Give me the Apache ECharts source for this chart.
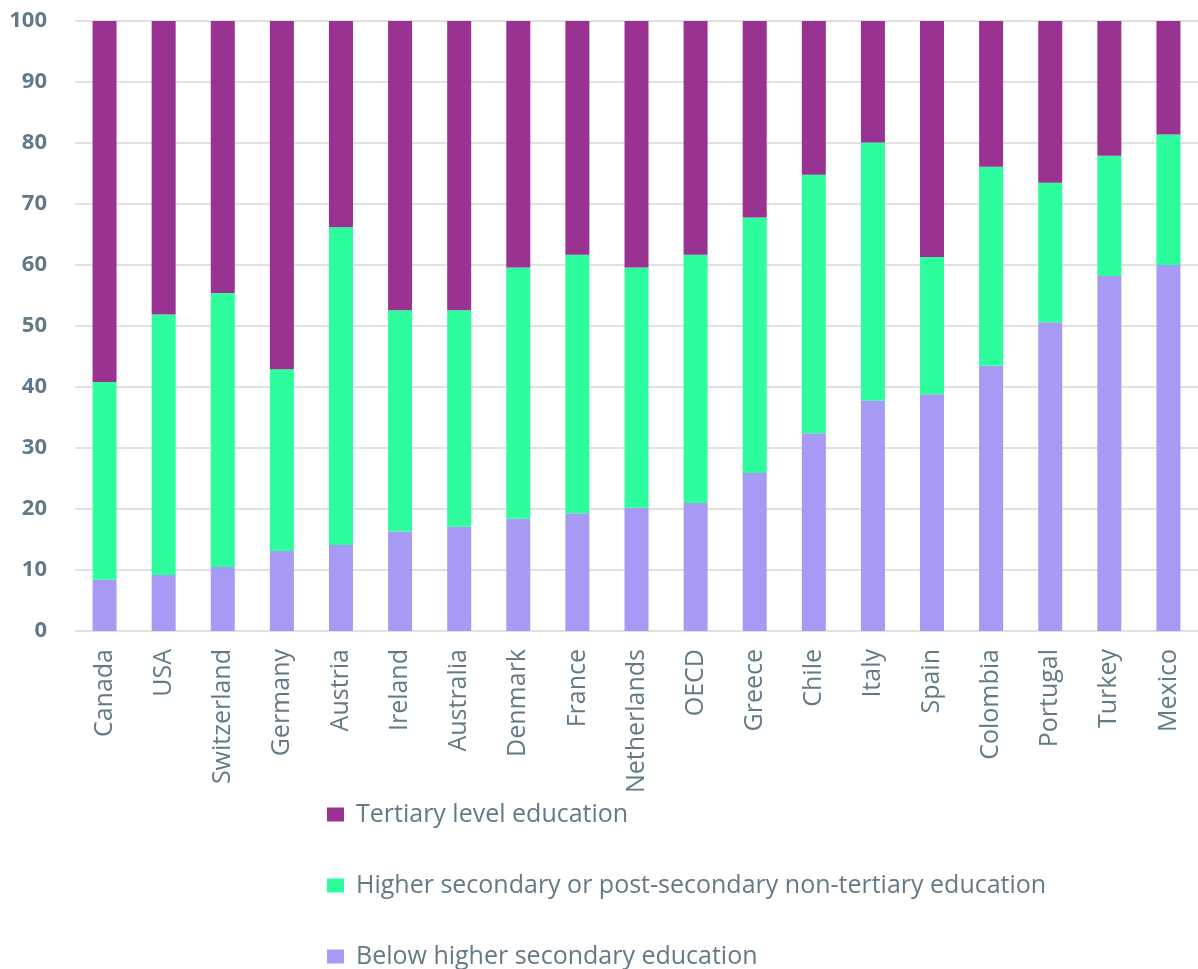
<!DOCTYPE html>
<html><head><meta charset="utf-8">
<script src="https://cdn.jsdelivr.net/npm/echarts@6/dist/echarts.min.js"></script>
<style>html,body{margin:0;padding:0;background:#fff}#c{width:1198px;height:969px}</style>
</head><body><div id="c"></div>
<script>
const categories = ["Canada","USA","Switzerland","Germany","Austria","Ireland","Australia","Denmark","France","Netherlands","OECD","Greece","Chile","Italy","Spain","Colombia","Portugal","Turkey","Mexico"];
const belowHigherSecondary = [8.4, 9.2, 10.5, 13.1, 14.1, 16.3, 17.1, 18.4, 19.3, 20.2, 21.0, 25.9, 32.4, 37.8, 38.8, 43.5, 50.6, 58.2, 60.0];
const higherSecondary = [32.4, 42.7, 44.9, 29.8, 52.1, 36.3, 35.5, 41.2, 42.4, 39.4, 40.7, 41.9, 42.4, 42.3, 22.5, 32.6, 22.9, 19.7, 21.4];
const tertiary = [59.2, 48.1, 44.6, 57.1, 33.8, 47.4, 47.4, 40.4, 38.3, 40.4, 38.3, 32.2, 25.2, 19.9, 38.7, 23.9, 26.5, 22.1, 18.6];
const yTicks = [0,10,20,30,40,50,60,70,80,90,100];

const textColor = '#627a88';
const chart = echarts.init(document.getElementById('c'));
chart.setOption({
  animation: false,
  textStyle: { fontFamily: 'Open Sans' },
  grid: { left: 75, right: -7, top: 21, bottom: 338, containLabel: false },
  legend: {
    orient: 'vertical', left: 327, top: 802, height: 300, padding: 0,
    itemWidth: 17, itemHeight: 14, itemGap: 46,
    icon: 'rect',
    data: ['Tertiary level education','Higher secondary or post-secondary non-tertiary education','Below higher secondary education'],
    textStyle: { color: textColor, fontSize: 25, lineHeight: 25, fontFamily: 'Open Sans', padding: [0,0,0,7] }
  },
  xAxis: {
    type: 'category', data: categories,
    axisLine: { show: false }, axisTick: { show: false },
    axisLabel: { rotate: 90, margin: 18, color: textColor, fontSize: 25, fontFamily: 'Open Sans' }
  },
  yAxis: {
    type: 'value', min: yTicks[0], max: yTicks[yTicks.length-1], interval: 10,
    axisLine: { show: false }, axisTick: { show: false },
    splitLine: { lineStyle: { color: '#e1e1e1', width: 2 } },
    axisLabel: { margin: 28, color: textColor, fontSize: 22, fontWeight: 'bold', fontFamily: 'Open Sans' }
  },
  series: [
    { name: 'Below higher secondary education', type: 'bar', stack: 's', data: belowHigherSecondary, barWidth: 24, itemStyle: { color: '#a69af5' } },
    { name: 'Higher secondary or post-secondary non-tertiary education', type: 'bar', stack: 's', data: higherSecondary, barWidth: 24, itemStyle: { color: '#2efd9e' } },
    { name: 'Tertiary level education', type: 'bar', stack: 's', data: tertiary, barWidth: 24, itemStyle: { color: '#993290' } }
  ]
});
</script></body></html>
